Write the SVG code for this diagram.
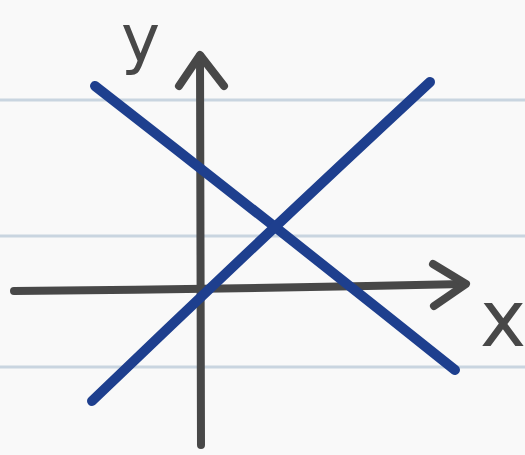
<svg xmlns="http://www.w3.org/2000/svg" width="525" height="455" viewBox="0 0 525 455">
<style>
.rule{stroke:#c9d5e0;stroke-width:3;fill:none}
.axis{stroke:#484848;stroke-width:8;fill:none;stroke-linecap:round;stroke-linejoin:round}
.line{stroke:#1e3f8e;stroke-width:10;fill:none;stroke-linecap:round}
.lbl{font-family:"DejaVu Sans",sans-serif;fill:#484848}
</style>
<rect width="525" height="455" fill="#f9f9f9"/>
<g id="paper">
<line class="rule" x1="0" y1="100" x2="525" y2="100"/>
<line class="rule" x1="0" y1="236" x2="525" y2="236"/>
<line class="rule" x1="0" y1="367" x2="525" y2="367"/>
</g>
<g id="axes">
<path class="axis" d="M201 445 L200 56"/>
<path class="axis" d="M179 86 L200 55 L224 86"/>
<path class="axis" d="M14 291 Q240 289 464 284"/>
<path class="axis" d="M433 264 L466 284 L434 306"/>
</g>
<g id="lines">
<path class="line" d="M95 86 Q280 230 455 370"/>
<path class="line" d="M92 401 Q265 235 430 82"/>
</g>
<g id="labels">
<text class="lbl" x="121" y="61" font-size="66">y</text>
<text class="lbl" x="480" y="346" font-size="78">x</text>
</g>
</svg>
